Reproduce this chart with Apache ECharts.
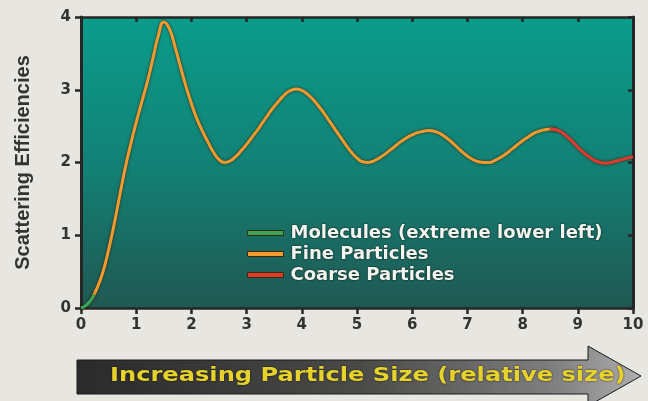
<!DOCTYPE html>
<html>
<head>
<meta charset="utf-8">
<script src="https://cdn.jsdelivr.net/npm/echarts@6/dist/echarts.min.js"></script>
<style>
html,body{margin:0;padding:0;background:#e8e6e0;}
#chart{width:648px;height:401px;}
</style>
</head>
<body>
<div id="chart"></div>
<script>
// ---- data ----
var xTicks = [0,1,2,3,4,5,6,7,8,9,10];
var yTicks = [0,1,2,3,4];
var moleculesData = [[0,0],[0.08,0.03],[0.16,0.09],[0.24,0.18]];
var fineData = [
  [0.2,0.13],[0.3,0.29],[0.4,0.5],[0.5,0.8],[0.6,1.15],[0.7,1.54],[0.8,1.92],[0.9,2.25],
  [1.0,2.55],[1.1,2.83],[1.2,3.1],[1.3,3.42],[1.4,3.74],[1.5,3.93],[1.6,3.84],[1.7,3.6],
  [1.8,3.32],[1.9,3.05],[2.0,2.81],[2.1,2.6],[2.2,2.43],[2.3,2.28],[2.4,2.14],[2.5,2.04],
  [2.6,2.0],[2.7,2.02],[2.8,2.08],[2.9,2.16],[3.0,2.25],[3.1,2.35],[3.2,2.45],[3.3,2.56],
  [3.4,2.67],[3.5,2.77],[3.6,2.86],[3.7,2.94],[3.8,2.99],[3.9,3.01],[4.0,2.99],[4.1,2.94],
  [4.2,2.87],[4.3,2.78],[4.4,2.68],[4.5,2.57],[4.6,2.46],[4.7,2.35],[4.8,2.24],[4.9,2.14],
  [5.0,2.06],[5.1,2.01],[5.2,2.0],[5.3,2.02],[5.4,2.06],[5.5,2.11],[5.6,2.17],[5.7,2.23],
  [5.8,2.29],[5.9,2.34],[6.0,2.38],[6.1,2.41],[6.2,2.43],[6.3,2.44],[6.4,2.43],[6.5,2.4],
  [6.6,2.35],[6.7,2.29],[6.8,2.22],[6.9,2.15],[7.0,2.09],[7.1,2.04],[7.2,2.01],[7.3,2.0],
  [7.4,2.0],[7.5,2.03],[7.6,2.07],[7.7,2.12],[7.8,2.18],[7.9,2.24],[8.0,2.3],[8.1,2.35],
  [8.2,2.4],[8.3,2.43],[8.4,2.45],[8.5,2.46],[8.6,2.45]
];
var coarseData = [
  [8.5,2.46],[8.6,2.45],[8.7,2.42],[8.8,2.36],[8.9,2.29],[9.0,2.21],[9.1,2.14],[9.2,2.08],
  [9.3,2.03],[9.4,2.0],[9.5,1.99],[9.6,2.0],[9.7,2.02],[9.8,2.04],[9.9,2.06],[10,2.08]
];
var seriesNames = ['Molecules (extreme lower left)','Fine Particles','Coarse Particles'];
var seriesColors = ['#3aa655','#f29a2e','#e0392e'];
var xTitle = 'Increasing Particle Size (relative size)';
var yTitle = 'Scattering Efficiencies';

var chart = echarts.init(document.getElementById('chart'));
var dark = '#262626';
var labelFont = {color:'#333', fontSize:15, fontWeight:'bold', fontFamily:'DejaVu Sans'};

function lineSeries(i, data){
  return {
    name: seriesNames[i], type:'line', data:data, symbol:'none', smooth:0.5,
    xAxisIndex:0, yAxisIndex:0,
    color: seriesColors[i],
    lineStyle:{width:3, color:seriesColors[i], shadowColor:'rgba(50,25,0,0.85)', shadowBlur:3},
    z: 3
  };
}

chart.setOption({
  backgroundColor:'#e8e6e0',
  animation:false,
  grid:{left:81, right:15, top:17, bottom:93, show:true, borderWidth:0,
    backgroundColor:{type:'linear',x:0,y:0,x2:0,y2:1,colorStops:[
      {offset:0,color:'#0a9c8b'},{offset:0.5,color:'#128276'},{offset:1,color:'#205852'}]}},
  legend:{
    orient:'vertical', left:242, top:219, itemWidth:36, itemHeight:5, itemGap:3,
    data:seriesNames,
    icon:'rect',
    itemStyle:{borderColor:'#3a2a10', borderWidth:1},
    textStyle:{color:'#f4f4ee', fontSize:18, fontWeight:'bold', fontFamily:'DejaVu Sans',
      textShadowColor:'rgba(0,0,0,0.9)', textShadowBlur:2, padding:[0,0,0,2]}
  },
  xAxis:[{
    type:'value', min:0, max:10, interval:1, position:'bottom',
    axisLine:{show:true, onZero:false, lineStyle:{color:dark, width:2.5}},
    axisTick:{show:true, inside:false, length:6, lineStyle:{color:dark, width:2.5}},
    axisLabel:Object.assign({margin:10, formatter:function(v){return xTicks.indexOf(v)>=0?String(v):'';}}, labelFont),
    splitLine:{show:false}
  },{
    type:'value', min:0, max:10, interval:1, position:'top',
    axisLine:{show:true, onZero:false, lineStyle:{color:dark, width:2.5}},
    axisTick:{show:true, inside:true, length:5, lineStyle:{color:dark, width:2.5}},
    axisLabel:{show:false}, splitLine:{show:false}
  }],
  yAxis:[{
    type:'value', min:0, max:4, interval:1, position:'left',
    name:yTitle, nameLocation:'middle', nameGap:48, nameRotate:90,
    nameTextStyle:{color:'#333', fontSize:20, fontWeight:'bold', fontFamily:'Liberation Sans'},
    axisLine:{show:true, onZero:false, lineStyle:{color:dark, width:3}},
    axisTick:{show:true, inside:false, length:6, lineStyle:{color:dark, width:2.5}},
    axisLabel:Object.assign({margin:10, formatter:function(v){return yTicks.indexOf(v)>=0?String(v):'';}}, labelFont),
    splitLine:{show:false}
  },{
    type:'value', min:0, max:4, interval:1, position:'right',
    axisLine:{show:true, onZero:false, lineStyle:{color:dark, width:3}},
    axisTick:{show:true, inside:true, length:5, lineStyle:{color:dark, width:2.5}},
    axisLabel:{show:false}, splitLine:{show:false}
  }],
  series:[
    lineSeries(1, fineData),
    lineSeries(2, coarseData),
    lineSeries(0, moleculesData)
  ],
  graphic:[{
    type:'polygon', z:10,
    shape:{points:[[77,360],[588,360],[588,346],[641,376],[588,406],[588,394],[77,394]]},
    style:{fill:{type:'linear',x:0,y:0,x2:1,y2:0,colorStops:[
      {offset:0,color:'#2a2a2c'},{offset:0.5,color:'#4a4a48'},{offset:0.85,color:'#808080'},{offset:1,color:'#b0aeb0'}]},
      stroke:'#1a1a1a', lineWidth:1}
  },{
    type:'text', z:11, x:110, y:367, scaleX:1.27,
    style:{text:xTitle, fill:'#e6d22a', fontSize:19, fontWeight:'bold', fontFamily:'DejaVu Sans',
      textShadowColor:'rgba(0,0,0,0.8)', textShadowBlur:2}
  }]
});
</script>
</body>
</html>
